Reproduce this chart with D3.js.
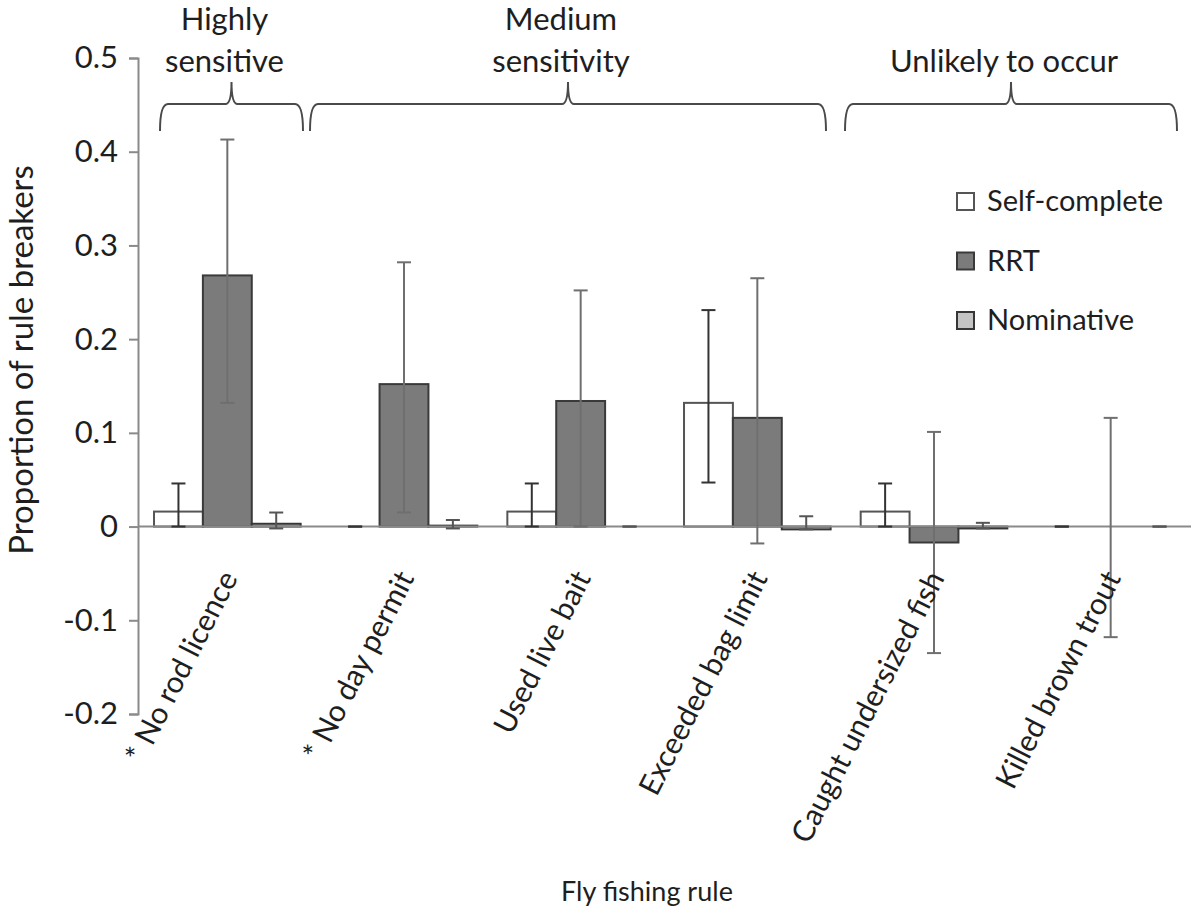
<!DOCTYPE html>
<html>
<head>
<meta charset="utf-8">
<script src="https://cdn.jsdelivr.net/npm/d3@7/dist/d3.min.js"></script>
<style>
  body { margin: 0; background: #fff; }
  text { font-family: Lato, "Open Sans", sans-serif; fill: #1e1e1e; }
</style>
</head>
<body>
<svg id="chart" width="1191" height="915"></svg>
<script>
const categories = ["* No rod licence", "* No day permit", "Used live bait", "Exceeded bag limit", "Caught undersized fish", "Killed brown trout"];
const seriesNames = ["Self-complete", "RRT", "Nominative"];

const selfComplete = [0.016, 0, 0.016, 0.132, 0.016, 0];
const selfLow      = [0, 0, 0, 0.047, 0, 0];
const selfHigh     = [0.046, 0, 0.046, 0.231, 0.046, 0];

const rrt     = [0.268, 0.152, 0.134, 0.116, -0.017, 0];
const rrtLow  = [0.132, 0.015, 0, -0.018, -0.135, -0.118];
const rrtHigh = [0.413, 0.282, 0.252, 0.265, 0.101, 0.116];

const nominative = [0.003, 0.001, 0, -0.003, -0.002, 0];
const nomLow     = [-0.002, -0.002, 0, -0.003, -0.002, 0];
const nomHigh    = [0.015, 0.007, 0, 0.011, 0.004, 0];

const yTicks = [0.5, 0.4, 0.3, 0.2, 0.1, 0, -0.1, -0.2];
const yTickLabels = ["0.5", "0.4", "0.3", "0.2", "0.1", "0", "-0.1", "-0.2"];

const groups = [
  {lines: ["Highly", "sensitive"]},
  {lines: ["Medium", "sensitivity"]},
  {lines: ["Unlikely to occur"]}
];

const values = [selfComplete, rrt, nominative];
const lows = [selfLow, rrtLow, nomLow];
const highs = [selfHigh, rrtHigh, nomHigh];

const data = [];
categories.forEach((c, i) => {
  seriesNames.forEach((s, j) => {
    data.push({cat: c, series: s, value: values[j][i], low: lows[j][i], high: highs[j][i]});
  });
});

const svg = d3.select("#chart");

const y = d3.scaleLinear().domain([-0.2, 0.5]).range([714, 58]);
const x0 = d3.scaleBand().domain(categories).range([139, 1199])
  .paddingInner(0.17).paddingOuter(0.085);
const x1 = d3.scaleBand().domain(seriesNames).range([0, x0.bandwidth()]);

const fill = d3.scaleOrdinal().domain(seriesNames).range(["#ffffff", "#7b7b7b", "#c4c4c4"]);
const stroke = d3.scaleOrdinal().domain(seriesNames).range(["#555555", "#3a3a3a", "#363636"]);
const errColor = d3.scaleOrdinal().domain(seriesNames).range(["#333333", "#6f6f6f", "#555555"]);

// y axis
const yAxis = svg.append("g")
  .attr("transform", "translate(138,0)")
  .call(d3.axisLeft(y).tickValues(yTicks).tickSize(9).tickPadding(11)
    .tickFormat((d, i) => yTickLabels[i]));
yAxis.select(".domain").attr("stroke", "#8a8a8a").attr("stroke-width", 2);
yAxis.selectAll(".tick line").attr("stroke", "#8a8a8a").attr("stroke-width", 2);
yAxis.selectAll(".tick text").attr("font-size", 31).attr("fill", "#1e1e1e")
  .attr("font-family", "Lato, sans-serif");

// bars
svg.append("g").selectAll("rect")
  .data(data)
  .join("rect")
  .attr("x", d => x0(d.cat) + x1(d.series))
  .attr("width", x1.bandwidth())
  .attr("y", d => Math.min(y(d.value), y(0)))
  .attr("height", d => Math.abs(y(d.value) - y(0)))
  .attr("fill", d => fill(d.series))
  .attr("stroke", d => stroke(d.series))
  .attr("stroke-width", 2);

// x axis line
svg.append("line")
  .attr("x1", 138).attr("x2", 1191)
  .attr("y1", y(0)).attr("y2", y(0))
  .attr("stroke", "#8a8a8a").attr("stroke-width", 2);

// error bars
const err = svg.append("g").selectAll("g")
  .data(data)
  .join("g")
  .attr("stroke", d => errColor(d.series))
  .attr("stroke-width", 2);
const cx = d => x0(d.cat) + x1(d.series) + x1.bandwidth() / 2;
err.append("line")
  .attr("x1", cx).attr("x2", cx)
  .attr("y1", d => y(d.low)).attr("y2", d => y(d.high));
err.append("line")
  .attr("x1", d => cx(d) - 7).attr("x2", d => cx(d) + 7)
  .attr("y1", d => y(d.low)).attr("y2", d => y(d.low));
err.append("line")
  .attr("x1", d => cx(d) - 7).attr("x2", d => cx(d) + 7)
  .attr("y1", d => y(d.high)).attr("y2", d => y(d.high));

// category labels
svg.append("g").selectAll("text")
  .data(categories)
  .join("text")
  .attr("transform", d => `translate(${x0(d) + x0.bandwidth() / 2 + 11},578) rotate(-63)`)
  .attr("text-anchor", "end")
  .attr("font-size", 30)
  .text(d => d);

// group braces
const braceTop = 104, braceBottom = 131, braceTip = 82;
const braceG = svg.append("g").attr("fill", "none").attr("stroke", "#4a4a4a").attr("stroke-width", 2);
const braceExt = [[160, 303], [310, 826], [845, 1177]];
groups.forEach((g, i) => {
  const left = braceExt[i][0], right = braceExt[i][1];
  const mid = (left + right) / 2;
  const p = d3.path();
  p.moveTo(left, braceBottom);
  p.quadraticCurveTo(left, braceTop, left + 8, braceTop);
  p.lineTo(mid - 6, braceTop);
  p.quadraticCurveTo(mid, braceTop, mid, braceTip);
  p.quadraticCurveTo(mid, braceTop, mid + 6, braceTop);
  p.lineTo(right - 8, braceTop);
  p.quadraticCurveTo(right, braceTop, right, braceBottom);
  braceG.append("path").attr("d", p.toString());
  const t = svg.append("text")
    .attr("text-anchor", "middle")
    .attr("font-size", 31);
  const lh = 42;
  const base = 72 - (g.lines.length - 1) * lh;
  g.lines.forEach((ln, k) => {
    t.append("tspan").attr("x", mid - 7).attr("y", base + k * lh).text(ln);
  });
});

// legend
const legend = svg.append("g").selectAll("g")
  .data(seriesNames)
  .join("g")
  .attr("transform", (d, i) => `translate(957,${193 + i * 59.5})`);
legend.append("rect")
  .attr("width", 17).attr("height", 17)
  .attr("fill", d => fill(d))
  .attr("stroke", d => stroke(d))
  .attr("stroke-width", 2);
legend.append("text")
  .attr("x", 30).attr("y", 18)
  .attr("font-size", 29)
  .text(d => d);

// axis titles
svg.append("text")
  .attr("transform", "translate(33,360) rotate(-90)")
  .attr("text-anchor", "middle")
  .attr("font-size", 33)
  .text("Proportion of rule breakers");
svg.append("text")
  .attr("x", 647).attr("y", 901)
  .attr("text-anchor", "middle")
  .attr("font-size", 27)
  .text("Fly fishing rule");
</script>
</body>
</html>
